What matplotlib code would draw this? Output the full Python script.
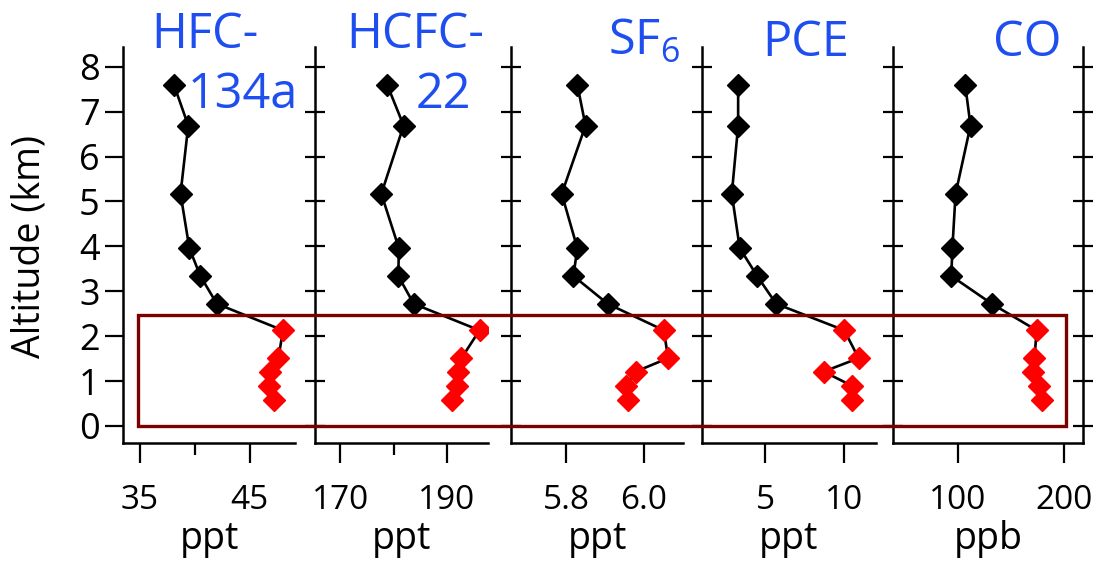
import matplotlib.pyplot as plt
from matplotlib.patches import Rectangle

plt.rcParams['font.family'] = ['Open Sans', 'DejaVu Sans']
plt.rcParams['mathtext.default'] = 'regular'

# altitude of each sample (km), same for all species
altitude = [7.60, 6.69, 5.17, 3.96, 3.34, 2.72, 2.13, 1.51, 1.21, 0.89, 0.58]
n_low = 5  # the lowest samples (boundary layer) are drawn red

hfc134a = [38.1, 39.4, 38.7, 39.5, 40.5, 42.0, 48.0, 47.6, 46.8, 46.7, 47.2]
hcfc22 = [178.8, 181.9, 177.7, 181.0, 180.9, 183.8, 196.2, 192.8, 192.2, 191.9, 191.1]
sf6 = [5.829, 5.850, 5.789, 5.829, 5.819, 5.907, 6.051, 6.062, 5.979, 5.953, 5.960]
pce = [3.3, 3.3, 2.9, 3.4, 4.5, 5.7, 10.0, 10.9, 8.7, 10.5, 10.5]
co = [107, 112, 98, 95, 94, 132, 174, 172, 171, 176, 179]

species = [hfc134a, hcfc22, sf6, pce, co]
units = ['ppt', 'ppt', 'ppt', 'ppt', 'ppb']
xlims = [(33.5, 49.1), (165.2, 197.8), (5.658, 6.101), (1.0, 12.0), (39.6, 217.2)]
xticks = [[35, 45], [170, 190], [5.8, 6.0], [5, 10], [100, 200]]
xticklabels = [['35', '45'], ['170', '190'], ['5.8', '6.0'], ['5', '10'], ['100', '200']]
xminor = [[40], [180], [], [], []]
yticks = [0, 1, 2, 3, 4, 5, 6, 7, 8]

# boundary layer box: altitude range, left edge in HFC units, right edge in CO units
box_alt = (0.0, 2.47)
box_x = (34.8, 202.0)

# layout (pixels of a 1101x565 figure)
W, H = 1101, 565
panels_px = [(123.3, 295), (315, 488), (510.7, 683.3), (701.7, 876), (893.3, 1082.7)]
top_px, bot_px = 47, 443

blue = '#1f4ef0'
box_red = '#7d0000'

fig = plt.figure(figsize=(W / 100, H / 100), dpi=100)
axes = []
for i, (x0, x1) in enumerate(panels_px):
    ax = fig.add_axes([x0 / W, 1 - bot_px / H, (x1 - x0) / W, (bot_px - top_px) / H])
    axes.append(ax)
    vals = species[i]
    ax.plot(vals, altitude, color='black', lw=1.9, zorder=2)
    ax.plot(vals[:-n_low], altitude[:-n_low], 'D', color='black', ms=11, zorder=3)
    ax.plot(vals[-n_low:], altitude[-n_low:], 'D', color='red', ms=11, zorder=3)

    ax.set_xlim(*xlims[i])
    ax.set_ylim(-0.38, 8.44)
    ax.set_xticks(xticks[i])
    ax.set_xticklabels(xticklabels[i])
    ax.set_xticks(xminor[i], minor=True)
    ax.set_yticks(yticks)
    ax.patch.set_alpha(0)

    ax.spines['top'].set_visible(False)
    ax.spines['right'].set_visible(i == 4)
    for s in ax.spines.values():
        s.set_linewidth(1.8)

    ax.tick_params(axis='x', which='major', direction='out', length=14.4, width=1.6,
                   pad=15, labelsize=24)
    ax.tick_params(axis='x', which='minor', direction='out', length=8.6, width=1.6)
    if i == 0:
        ax.tick_params(axis='y', direction='out', length=13, width=1.6, pad=4, labelsize=26)
    else:
        ax.tick_params(axis='y', direction='inout', length=14.4, width=1.6, labelleft=False,
                       right=(i == 4))
    ax.set_xlabel(units[i], fontsize=27, labelpad=2)

fig.text(30 / W, 1 - 247 / H, 'Altitude (km)', rotation=90, ha='center', va='center',
         fontsize=27)

# species names
titles = [('HFC-', 205, 35), ('134a', 243, 95), ('HCFC-', 415, 35), ('22', 443, 95),
          ('SF$_6$', 644, 42), ('PCE', 806, 43), ('CO', 1027, 43)]
for txt, xp, yp in titles:
    fig.text(xp / W, 1 - yp / H, txt, ha='center', va='center', fontsize=35, color=blue)

# boundary-layer box spanning all panels
p0 = fig.transFigure.inverted().transform(axes[0].transData.transform((box_x[0], box_alt[0])))
p1 = fig.transFigure.inverted().transform(axes[4].transData.transform((box_x[1], box_alt[1])))
rect = Rectangle(p0, p1[0] - p0[0], p1[1] - p0[1], transform=fig.transFigure,
                 fill=False, edgecolor=box_red, lw=2.4, zorder=10)
fig.patches.append(rect)

fig.savefig('out.png', dpi=100)
